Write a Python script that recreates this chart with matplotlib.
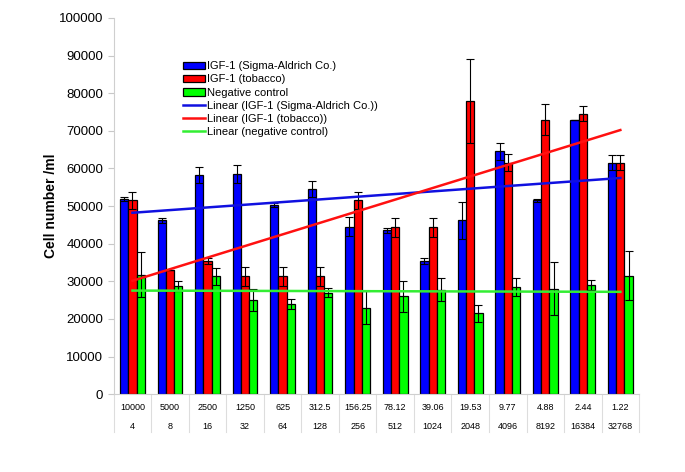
import numpy as np
import matplotlib
matplotlib.use("Agg")
import matplotlib.pyplot as plt
from matplotlib.lines import Line2D
from matplotlib.patches import Patch
import matplotlib.transforms as mtransforms

plt.rcParams['font.family'] = ['Liberation Sans', 'DejaVu Sans']

# dilution / concentration rows shown under the bars
conc_labels = ["10000", "5000", "2500", "1250", "625", "312.5", "156.25",
               "78.12", "39.06", "19.53", "9.77", "4.88", "2.44", "1.22"]
fold_labels = ["4", "8", "16", "32", "64", "128", "256",
               "512", "1024", "2048", "4096", "8192", "16384", "32768"]

# cell numbers (mean) and error
sigma_vals = [51800, 46200, 58300, 58500, 50200, 54500, 44500,
              43500, 35400, 46200, 64500, 51500, 73000, 61500]
sigma_err = [500, 700, 2200, 2300, 500, 2200, 2500,
             700, 700, 5000, 2200, 500, 0, 2000]
tobacco_vals = [51500, 33000, 35300, 31300, 31300, 31300, 51500,
                44300, 44300, 78000, 61500, 73000, 74500, 61500]
tobacco_err = [2200, 0, 800, 2500, 2500, 2500, 2200,
               2500, 2500, 11200, 2200, 4200, 2000, 2000]
neg_vals = [31700, 28700, 31300, 25000, 24000, 27000, 23000,
            26000, 27800, 21500, 28500, 28000, 29000, 31500]
neg_err = [6000, 1300, 2300, 3000, 1300, 1300, 4300,
           4200, 3000, 2200, 2300, 7000, 1300, 6500]

series_names = ["IGF-1 (Sigma-Aldrich Co.)", "IGF-1 (tobacco)", "Negative control"]
trend_names = ["Linear (IGF-1 (Sigma-Aldrich Co.))", "Linear (IGF-1 (tobacco))",
               "Linear (negative control)"]

fig = plt.figure(figsize=(6.85, 4.72), dpi=100)
ax = fig.add_axes([0.166, 0.165, 0.767, 0.797])

x = np.arange(len(conc_labels))
w = 0.22
bar_cols = ["#0000ff", "#ff0000", "#00ff00"]
trend_cols = ["#1010e0", "#ff1010", "#33ee33"]
data = [(sigma_vals, sigma_err), (tobacco_vals, tobacco_err), (neg_vals, neg_err)]

for i, (vals, err) in enumerate(data):
    ax.bar(x + (i - 1) * w, vals, w, color=bar_cols[i], edgecolor="black", linewidth=0.9, zorder=2)
    ax.errorbar(x + (i - 1) * w, vals, yerr=err, fmt="none", ecolor="black",
                elinewidth=0.8, capsize=3, capthick=0.8, zorder=3)

# excel style linear trendlines
xi = np.arange(1, len(x) + 1)
for i, (vals, err) in enumerate(data):
    k, b = np.polyfit(xi, vals, 1)
    ax.plot([x[0], x[-1]], [k * xi[0] + b, k * xi[-1] + b], color=trend_cols[i], lw=1.8, zorder=4)

ax.set_xlim(-0.5, len(x) - 0.5)
ax.set_ylim(0, 100000)
ax.set_yticks(np.arange(0, 100001, 10000))
ax.tick_params(axis="y", labelsize=9.5, color="#c8c8c8", length=4, width=0.8)
ax.set_xticks([])
for s in ["top", "right"]:
    ax.spines[s].set_visible(False)
for s in ["left", "bottom"]:
    ax.spines[s].set_color("#cfcfcf")
    ax.spines[s].set_linewidth(0.8)
ax.set_ylabel("Cell number /ml", fontsize=10, fontweight="bold", labelpad=1)

# table under the axis
trans = mtransforms.blended_transform_factory(ax.transData, ax.transAxes)
for k in range(len(x) + 1):
    ax.add_line(Line2D([k - 0.5, k - 0.5], [0, -0.102], transform=trans,
                       color="#dddddd", lw=0.8, clip_on=False))
for k in range(len(x)):
    ax.text(x[k], -0.036, conc_labels[k], transform=trans, ha="center", va="center", fontsize=6.5)
    ax.text(x[k], -0.086, fold_labels[k], transform=trans, ha="center", va="center", fontsize=6.5)

handles = [Patch(facecolor=c, edgecolor="black", linewidth=0.9) for c in bar_cols]
handles += [Line2D([], [], color=c, lw=1.8) for c in trend_cols]
ax.legend(handles, series_names + trend_names, loc="upper left",
          bbox_to_anchor=(0.267, 0.870), bbox_transform=fig.transFigure,
          frameon=False, fontsize=8, handlelength=2.0, handletextpad=0.15,
          labelspacing=0.28, borderaxespad=0, borderpad=0)

fig.savefig("out.png", dpi=100)
